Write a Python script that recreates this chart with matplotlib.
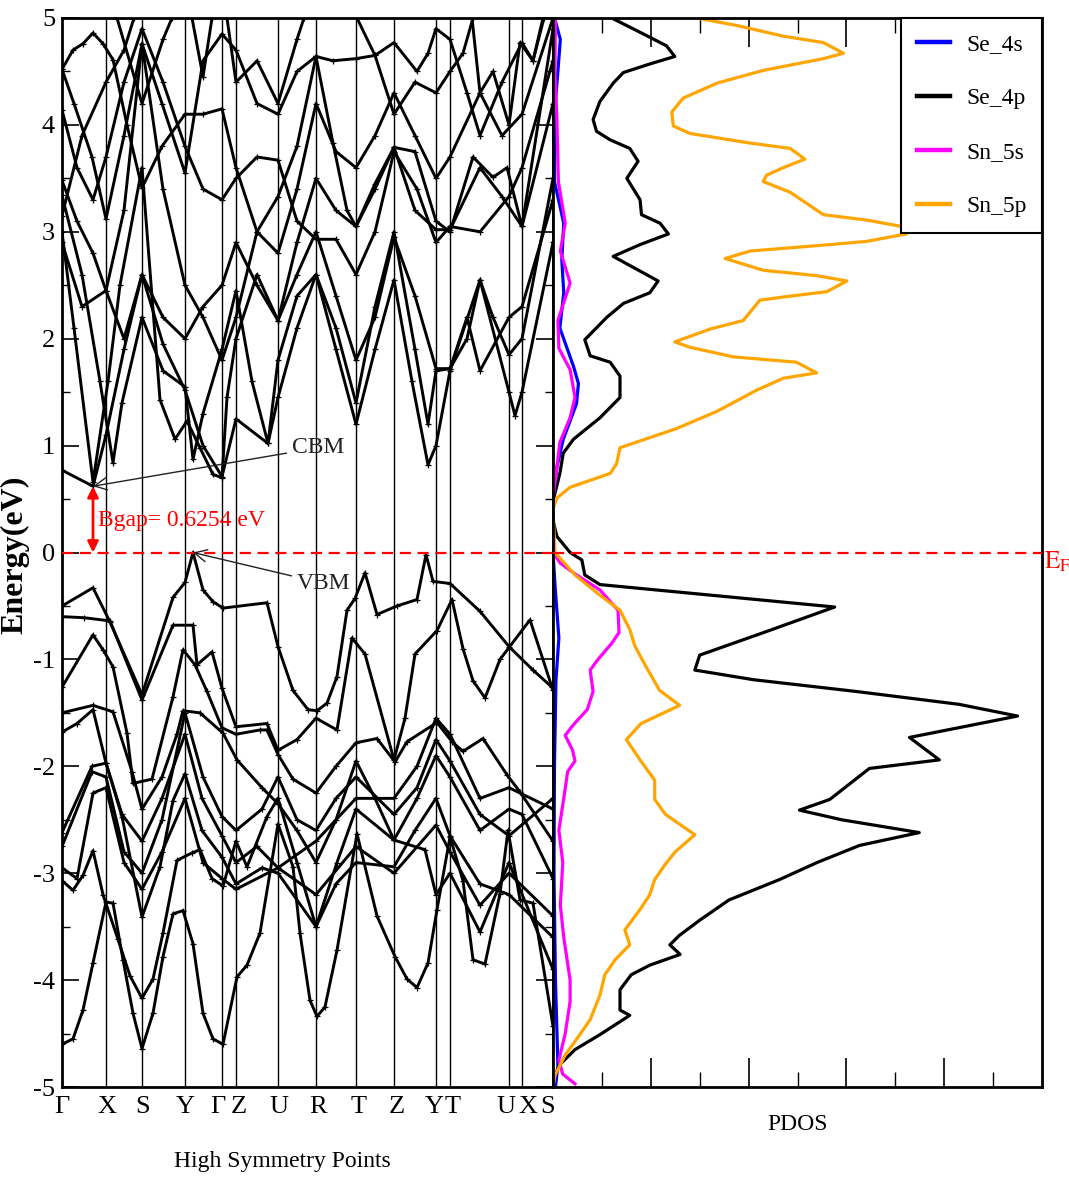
import matplotlib
matplotlib.use('Agg')
import matplotlib.pyplot as plt
from matplotlib.lines import Line2D
from matplotlib.ticker import MultipleLocator, FixedLocator

plt.rcParams['font.family'] = ['Liberation Serif', 'DejaVu Serif']
plt.rcParams['mathtext.fontset'] = 'stix'
plt.rcParams['axes.unicode_minus'] = False

# ---------------- data ----------------
kpoint_labels = ['Γ', 'X', 'S', 'Y', 'Γ', 'Z', 'U', 'R', 'T', 'Z', 'Y', 'T', 'U', 'X', 'S']
kpoint_pos = [0.00, 0.44, 0.80, 1.23, 1.60, 1.74, 2.16, 2.54, 2.94, 3.32, 3.74, 3.88, 4.47, 4.60, 4.91]
# where each label sits (adjacent labels are nudged apart as in the source)
klabel_pos = [0.00, 0.45, 0.81, 1.23, 1.56, 1.77, 2.17, 2.56, 2.97, 3.35, 3.72, 3.91, 4.44, 4.66, 4.86]

valence_bands = [
    [(0.00,-0.50),(0.31,-0.33),(0.48,-0.65),(0.80,-1.33),(1.11,-0.42),(1.23,-0.28),(1.31,0.00),(1.41,-0.35),(1.51,-0.46),(1.61,-0.52),(2.05,-0.47),(2.16,-0.88),(2.31,-1.29),(2.46,-1.47),(2.55,-1.48),(2.65,-1.41),(2.75,-1.16),(2.85,-0.54),(2.93,-0.43),(3.03,-0.19),(3.15,-0.58),(3.35,-0.50),(3.55,-0.44),(3.64,-0.02),(3.71,-0.27),(3.88,-0.29),(4.18,-0.55),(4.47,-0.88),(4.71,-1.10),(4.90,-1.26)],
    [(0.00,-0.60),(0.22,-0.61),(0.48,-0.64),(0.80,-1.38),(1.11,-0.68),(1.31,-0.68),(1.35,-1.05),(1.50,-0.93),(1.60,-1.27),(1.74,-1.63),(2.05,-1.60),(2.16,-1.85),(2.35,-1.75),(2.54,-1.55),(2.75,-1.66),(2.90,-0.80),(3.03,-0.95),(3.32,-1.94),(3.43,-1.55),(3.53,-0.95),(3.75,-0.73),(3.90,-0.44),(4.01,-0.90),(4.11,-1.20),(4.23,-1.36),(4.38,-1.00),(4.68,-0.63),(4.91,-1.29)],
    [(0.00,-1.26),(0.31,-0.77),(0.41,-0.91),(0.51,-1.07),(0.65,-1.69),(0.71,-2.16),(0.90,-2.12),(1.11,-1.35),(1.21,-0.91),(1.33,-1.05),(1.45,-1.30),(1.60,-1.64),(1.74,-1.70),(1.98,-1.66),(2.05,-1.66),(2.16,-1.89),(2.31,-2.12),(2.54,-2.25),(2.74,-2.00),(2.94,-1.78),(3.15,-1.74),(3.33,-1.96),(3.45,-1.77),(3.75,-1.59),(3.90,-1.77),(4.01,-1.86),(4.21,-1.74),(4.45,-2.08),(4.58,-2.24),(4.91,-2.70)],
    [(0.00,-1.50),(0.31,-1.43),(0.51,-1.49),(0.70,-2.05),(0.80,-2.40),(1.00,-2.10),(1.15,-1.70),(1.21,-1.48),(1.38,-1.50),(1.61,-1.69),(1.75,-1.94),(2.00,-2.20),(2.16,-2.35),(2.35,-2.60),(2.54,-2.90),(2.74,-2.50),(2.94,-1.95),(3.13,-2.30),(3.32,-2.69),(3.55,-2.30),(3.74,-1.90),(3.88,-2.10),(4.18,-2.60),(4.47,-2.40),(4.60,-2.45),(4.91,-3.05)],
    [(0.00,-1.68),(0.15,-1.60),(0.31,-1.47),(0.44,-1.97),(0.60,-2.45),(0.80,-2.70),(1.00,-2.30),(1.23,-1.70),(1.40,-2.30),(1.60,-2.65),(1.74,-2.90),(1.95,-2.75),(2.16,-2.95),(2.54,-2.70),(2.94,-2.30),(3.32,-2.30),(3.55,-2.00),(3.74,-1.55),(3.88,-1.70),(4.18,-2.30),(4.47,-2.20),(4.91,-2.40)],
    [(0.00,-2.62),(0.30,-2.00),(0.44,-1.97),(0.60,-2.47),(0.80,-3.41),(0.98,-2.94),(1.11,-2.32),(1.23,-2.07),(1.40,-2.60),(1.60,-2.85),(1.74,-3.10),(2.00,-2.95),(2.16,-3.00),(2.54,-3.50),(2.74,-3.10),(2.94,-2.90),(3.32,-2.94),(3.53,-2.60),(3.74,-2.30),(3.88,-2.65),(4.18,-3.10),(4.47,-3.20),(4.91,-3.60)],
    [(0.00,-2.75),(0.30,-2.05),(0.44,-2.10),(0.62,-2.80),(0.80,-3.00),(1.00,-2.50),(1.23,-1.50),(1.41,-2.10),(1.60,-2.47),(1.74,-2.60),(2.00,-2.40),(2.16,-2.10),(2.35,-2.50),(2.54,-2.60),(2.74,-2.30),(2.94,-2.10),(3.32,-2.45),(3.55,-2.20),(3.74,-1.75),(3.88,-1.95),(4.18,-2.45),(4.47,-2.65),(4.91,-2.30)],
    [(0.00,-2.95),(0.15,-3.05),(0.31,-2.25),(0.44,-2.20),(0.62,-2.90),(0.80,-3.15),(1.00,-2.80),(1.23,-2.30),(1.41,-2.90),(1.60,-3.05),(1.74,-3.15),(2.16,-2.95),(2.54,-3.20),(2.94,-2.75),(3.32,-3.00),(3.74,-2.55),(3.88,-2.80),(4.18,-3.30),(4.47,-3.00),(4.91,-3.40)],
    [(0.00,-3.07),(0.11,-3.16),(0.21,-3.02),(0.31,-2.79),(0.41,-3.20),(0.56,-3.62),(0.68,-3.96),(0.80,-4.17),(0.91,-3.99),(1.01,-3.56),(1.15,-2.88),(1.30,-2.81),(1.38,-2.78),(1.50,-3.05),(1.61,-3.12),(1.74,-2.70),(1.85,-2.94),(2.05,-2.47),(2.16,-2.30),(2.35,-2.90),(2.54,-3.50),(2.75,-2.90),(2.94,-2.40),(3.32,-2.69),(3.63,-2.78),(3.74,-3.20),(3.88,-3.00),(4.18,-3.55),(4.47,-2.90),(4.91,-3.90)],
    [(0.00,-4.60),(0.11,-4.55),(0.21,-4.28),(0.31,-3.84),(0.44,-3.27),(0.51,-3.28),(0.61,-3.81),(0.71,-4.31),(0.80,-4.64),(0.91,-4.31),(1.01,-3.78),(1.11,-3.38),(1.21,-3.35),(1.31,-3.66),(1.41,-4.31),(1.51,-4.55),(1.61,-4.60),(1.75,-3.97),(1.85,-3.86),(1.98,-3.56),(2.16,-2.54),(2.31,-2.94),(2.38,-3.56),(2.48,-4.19),(2.55,-4.34),(2.63,-4.25),(2.75,-3.72),(2.95,-2.63),(3.15,-3.40),(3.33,-3.78),(3.45,-3.99),(3.55,-4.07),(3.66,-3.84),(3.75,-3.34),(3.88,-2.66),(4.01,-3.07),(4.11,-3.81),(4.23,-3.85),(4.38,-3.19),(4.46,-2.60),(4.58,-3.25),(4.71,-3.28),(4.91,-4.43)],
]

conduction_bands = [
    [(0.00,0.77),(0.31,0.62),(0.44,1.10),(0.62,1.90),(0.80,2.60),(1.01,1.95),(1.23,1.52),(1.41,1.00),(1.60,0.71),(1.74,1.25),(2.06,1.02),(2.16,1.45),(2.35,2.10),(2.54,2.60),(2.74,1.90),(2.94,1.20),(3.13,1.90),(3.32,2.55),(3.50,1.60),(3.66,0.82),(3.74,1.00),(3.88,1.70),(4.18,2.55),(4.47,1.50),(4.53,1.28),(4.60,1.50),(4.91,2.90)],
    [(0.00,3.00),(0.12,2.10),(0.31,0.66),(0.46,1.60),(0.58,2.50),(0.80,3.60),(0.98,1.43),(1.13,1.06),(1.25,1.23),(1.38,0.98),(1.51,0.73),(1.60,0.70),(1.65,1.45),(1.74,2.00),(1.95,2.60),(2.16,2.17),(2.35,2.90),(2.54,3.50),(2.74,3.20),(2.94,3.05),(3.13,3.45),(3.32,3.79),(3.53,3.20),(3.74,3.02),(3.88,3.02),(4.18,3.60),(4.40,3.33),(4.60,3.05),(4.91,4.20)],
    [(0.00,3.34),(0.20,2.60),(0.38,1.60),(0.51,0.84),(0.60,1.40),(0.80,2.20),(1.01,1.70),(1.23,1.55),(1.31,0.87),(1.41,1.30),(1.60,1.90),(1.74,2.45),(1.90,1.60),(2.06,1.02),(2.16,1.80),(2.35,2.40),(2.54,2.60),(2.74,2.10),(2.94,1.40),(3.13,2.30),(3.32,3.00),(3.53,1.90),(3.66,1.20),(3.74,1.70),(3.88,1.72),(4.05,2.20),(4.18,1.70),(4.47,2.20),(4.60,2.30),(4.91,3.30)],
    [(0.00,3.48),(0.15,3.10),(0.31,2.80),(0.44,2.45),(0.62,3.20),(0.80,4.76),(1.01,3.40),(1.23,2.50),(1.41,2.20),(1.60,1.80),(1.74,2.20),(1.95,3.00),(2.16,3.33),(2.35,3.80),(2.54,4.64),(2.71,3.83),(2.85,3.20),(2.94,3.05),(3.13,3.40),(3.32,3.79),(3.53,3.75),(3.74,3.10),(3.88,3.00),(4.11,3.70),(4.31,3.51),(4.45,3.60),(4.60,3.05),(4.91,4.90)],
    [(0.00,4.52),(0.11,4.70),(0.21,4.76),(0.31,4.86),(0.41,4.76),(0.51,4.61),(0.65,4.00),(0.80,3.41),(1.00,3.80),(1.23,4.10),(1.41,4.10),(1.60,4.15),(1.74,3.60),(1.95,3.00),(2.16,2.80),(2.35,3.40),(2.54,4.20),(2.74,3.75),(2.94,3.60),(3.13,3.90),(3.32,4.30),(3.53,3.90),(3.74,3.50),(3.88,3.70),(4.18,4.30),(4.40,3.90),(4.60,4.10),(4.91,5.00)],
    [(0.00,4.52),(0.12,4.20),(0.30,3.70),(0.44,3.12),(0.62,3.90),(0.80,4.76),(1.00,4.20),(1.23,3.55),(1.41,4.60),(1.60,4.85),(1.74,4.70),(1.95,4.20),(2.16,4.10),(2.35,4.50),(2.54,4.64),(2.71,4.60),(2.94,4.62),(3.13,4.65),(3.32,4.77),(3.55,4.50),(3.66,4.67),(3.74,4.90),(3.88,4.80),(4.05,4.30),(4.18,3.90),(4.40,4.40),(4.60,4.77),(4.71,4.60),(4.82,5.00)],
    [(0.00,4.14),(0.15,3.60),(0.31,3.30),(0.44,3.70),(0.62,4.40),(0.80,4.90),(1.01,4.40),(1.23,3.80),(1.41,3.40),(1.60,3.30),(1.74,3.50),(1.95,3.70),(2.16,3.67),(2.35,3.10),(2.54,2.93),(2.74,2.93),(2.94,2.60),(3.13,3.00),(3.32,3.75),(3.55,3.40),(3.74,2.90),(3.88,3.05),(4.18,3.00),(4.47,3.33),(4.60,3.60),(4.91,4.60)],
    [(0.00,2.90),(0.20,2.30),(0.44,2.45),(0.62,2.00),(0.80,2.60),(1.01,2.20),(1.23,2.00),(1.41,2.30),(1.60,2.50),(1.74,2.90),(1.95,2.50),(2.16,2.17),(2.35,2.60),(2.54,3.00),(2.74,2.40),(2.94,1.80),(3.13,2.20),(3.32,2.95),(3.53,2.40),(3.74,1.72),(3.88,1.72),(4.05,2.00),(4.18,2.55),(4.31,2.20),(4.47,1.85),(4.60,2.00),(4.91,3.50)],
    [(0.00,3.15),(0.20,3.90),(0.44,4.40),(0.62,4.70),(0.72,5.00)],
    [(0.55,5.00),(0.80,4.20),(1.01,4.80),(1.10,5.00)],
    [(1.30,5.00),(1.41,4.45),(1.50,5.00)],
    [(1.65,5.00),(1.74,4.40),(1.95,4.60),(2.16,4.20),(2.35,4.80),(2.42,5.00)],
    [(2.95,5.00),(3.13,4.65),(3.32,4.10),(3.53,4.40),(3.74,4.30),(3.88,4.50),(4.01,4.67),(4.11,5.00)],
    [(4.10,5.00),(4.18,4.30),(4.31,4.50),(4.47,4.00),(4.58,4.77),(4.71,4.60),(4.81,5.00)],
]

# PDOS: (energy, density)
se4s = [(5.0,0.03),(4.80,0.15),(4.50,0.10),(4.22,0.05),(3.47,0.03),(3.08,0.22),(2.74,0.18),(2.43,0.22),(2.10,0.14),(1.74,0.42),(1.58,0.52),(1.39,0.48),(1.06,0.21),(0.80,0.08),(0.50,0.00),(0.0,0.00),(-0.3,0.04),(-0.8,0.12),(-1.2,0.06),(-2.0,0.03),(-3.0,0.02),(-4.0,0.05),(-4.8,0.10),(-5.0,0.05)]
se4p = [(5.00,1.20),(4.82,1.98),(4.74,2.32),(4.64,2.49),(4.57,1.98),(4.49,1.44),(4.39,1.23),(4.22,0.96),(4.05,0.82),(3.94,0.89),(3.86,1.17),(3.78,1.57),(3.66,1.74),(3.50,1.51),(3.30,1.78),(3.16,1.81),(3.08,2.19),(2.98,2.36),(2.88,1.78),(2.77,1.23),(2.65,1.71),(2.54,2.15),(2.43,1.98),(2.33,1.44),(2.20,1.10),(1.99,0.65),(1.84,0.76),(1.78,1.17),(1.65,1.37),(1.45,1.37),(1.26,0.96),(1.06,0.42),(0.93,0.21),(0.74,0.14),(0.48,0.00),(0.30,0.00),(0.15,0.08),(0.00,0.35),(-0.07,0.59),(-0.21,0.65),(-0.30,0.96),(-0.51,5.76),(-0.75,4.30),(-0.96,3.00),(-1.10,2.90),(-1.19,4.10),(-1.30,6.20),(-1.42,8.30),(-1.53,9.50),(-1.73,7.29),(-1.94,7.90),(-2.02,6.47),(-2.31,5.66),(-2.41,5.04),(-2.50,5.90),(-2.62,7.49),(-2.74,6.27),(-2.90,5.40),(-3.06,4.63),(-3.25,3.60),(-3.44,3.00),(-3.58,2.59),(-3.67,2.39),(-3.76,2.60),(-3.86,1.98),(-3.95,1.60),(-4.09,1.37),(-4.28,1.37),(-4.33,1.57),(-4.51,0.96),(-4.65,0.45),(-4.79,0.14),(-4.93,0.00),(-5.0,0.0)]
sn5s = [(5.0,0.05),(4.50,0.04),(4.05,0.08),(3.47,0.11),(3.08,0.25),(2.82,0.15),(2.52,0.35),(2.17,0.10),(1.91,0.12),(1.71,0.35),(1.45,0.45),(1.26,0.35),(1.03,0.14),(0.80,0.08),(0.50,0.00),(0.0,0.00),(-0.10,0.15),(-0.20,0.45),(-0.35,0.96),(-0.54,1.33),(-0.75,1.35),(-0.85,1.20),(-1.00,0.92),(-1.10,0.76),(-1.30,0.82),(-1.47,0.70),(-1.61,0.42),(-1.71,0.25),(-1.85,0.40),(-1.95,0.45),(-2.05,0.30),(-2.30,0.22),(-2.60,0.12),(-2.90,0.20),(-3.30,0.15),(-3.60,0.22),(-4.00,0.35),(-4.20,0.35),(-4.50,0.25),(-4.75,0.12),(-4.88,0.20),(-4.97,0.45)]
sn5p = [(5.00,2.94),(4.93,3.76),(4.83,4.71),(4.77,5.53),(4.67,5.94),(4.62,5.53),(4.51,4.30),(4.39,3.35),(4.25,2.66),(4.12,2.43),(3.99,2.46),(3.92,2.80),(3.83,4.03),(3.78,4.85),(3.68,5.15),(3.60,4.71),(3.53,4.37),(3.47,4.30),(3.37,4.85),(3.16,5.53),(3.11,6.41),(3.05,7.13),(2.98,7.23),(2.91,6.41),(2.87,5.39),(2.82,4.03),(2.75,3.52),(2.64,4.30),(2.59,5.39),(2.54,6.01),(2.44,5.60),(2.39,4.71),(2.36,4.23),(2.17,3.89),(2.09,3.21),(1.97,2.49),(1.92,2.80),(1.83,3.69),(1.78,4.98),(1.68,5.39),(1.63,4.71),(1.52,4.17),(1.32,3.35),(1.16,2.53),(0.98,1.37),(0.83,1.30),(0.74,1.17),(0.61,0.35),(0.51,0.08),(0.41,0.00),(0.0,0.04),(-0.21,0.45),(-0.40,0.96),(-0.54,1.37),(-0.72,1.57),(-0.87,1.67),(-1.05,1.88),(-1.29,2.18),(-1.43,2.59),(-1.60,1.80),(-1.75,1.50),(-1.94,1.78),(-2.13,2.08),(-2.31,2.08),(-2.45,2.30),(-2.64,2.90),(-2.80,2.50),(-2.92,2.29),(-3.06,2.08),(-3.20,1.98),(-3.34,1.78),(-3.53,1.47),(-3.67,1.57),(-3.81,1.27),(-3.95,1.06),(-4.14,0.96),(-4.37,0.76),(-4.51,0.55),(-4.70,0.25),(-4.89,0.04),(-5.00,0.00)]

pdos_series = [('Se_4s', se4s, '#0000FF'), ('Se_4p', se4p, '#000000'),
               ('Sn_5s', sn5s, '#FF00FF'), ('Sn_5p', sn5p, '#FFA500')]

band_gap_text = 'Bgap= 0.6254 eV'
cbm = (0.31, 0.62)
vbm = (1.31, 0.00)

# ---------------- figure ----------------
W, H = 1069, 1183
fig = plt.figure(figsize=(W / 100, H / 100), dpi=100)


def rect(x0, x1, y0, y1):
    return [x0 / W, 1 - y1 / H, (x1 - x0) / W, (y1 - y0) / H]


ax = fig.add_axes(rect(62, 553, 18, 1087))
ax2 = fig.add_axes(rect(553, 1042, 18, 1087))

for band in valence_bands + conduction_bands:
    ks = [p[0] for p in band]
    es = [p[1] for p in band]
    ax.plot(ks, es, color='black', lw=2.1, marker='+', ms=4, mew=0.9, zorder=3)

for k in kpoint_pos[1:-1]:
    ax.axvline(k, color='black', lw=1.0, zorder=2)

dash = (0, (5, 3))
ax.axhline(0, color='red', lw=1.6, ls=dash, zorder=4)
ax.set_xlim(kpoint_pos[0], kpoint_pos[-1])
ax.set_ylim(-5, 5)
ax.set_xticks(kpoint_pos)
ax.set_xticklabels([])
for lab, kx in zip(kpoint_labels, klabel_pos):
    ax.text(kx, -5.08, lab, fontsize=19, ha='center', va='top')
ax.set_yticks(range(-5, 6))
ax.set_yticklabels([str(v) for v in range(-5, 6)])
ax.yaxis.set_minor_locator(MultipleLocator(0.5))
ax.tick_params(axis='x', length=0)
ax.tick_params(axis='y', which='major', direction='in', length=12, width=1.2,
               left=True, right=True, labelsize=19, pad=5)
ax.tick_params(axis='y', which='minor', direction='in', length=6, width=1.0,
               left=True, right=True)
for s in ax.spines.values():
    s.set_linewidth(2.0)

# annotations
ax.annotate('', xy=(cbm[0], cbm[1]), xytext=(cbm[0], 0.0),
            arrowprops=dict(arrowstyle='<|-|>', color='red', lw=2.0, mutation_scale=16,
                            shrinkA=0, shrinkB=0), zorder=6)
ax.text(0.36, 0.30, band_gap_text, color='red', fontsize=17, ha='left', va='center', zorder=6)
ax.annotate('CBM', xy=cbm, xytext=(2.30, 0.98), fontsize=17, color='#222222',
            ha='left', va='center',
            arrowprops=dict(arrowstyle='->', color='#222222', lw=1.0, shrinkA=2, shrinkB=0,
                            mutation_scale=22), zorder=6)
ax.annotate('VBM', xy=vbm, xytext=(2.35, -0.29), fontsize=17, color='#222222',
            ha='left', va='center',
            arrowprops=dict(arrowstyle='->', color='#222222', lw=1.0, shrinkA=2, shrinkB=0,
                            mutation_scale=22), zorder=6)

# PDOS
for name, data, col in pdos_series:
    es = [p[0] for p in data]
    ds = [p[1] for p in data]
    ax2.plot(ds, es, color=col, lw=2.3, label=name)
ax2.axhline(0, color='red', lw=1.6, ls=dash, zorder=4)
ax2.set_xlim(0, 10)
ax2.set_ylim(-5, 5)
ax2.set_yticks([])
ax2.xaxis.set_major_locator(FixedLocator([2, 4, 6, 8]))
ax2.xaxis.set_minor_locator(FixedLocator([1, 3, 5, 7, 9]))
ax2.tick_params(axis='x', which='major', direction='in', length=21, width=1.2,
                top=True, bottom=True, labelbottom=False)
ax2.tick_params(axis='x', which='minor', direction='in', length=10.5, width=1.0,
                top=True, bottom=True)
for s in ax2.spines.values():
    s.set_linewidth(2.0)

handles = [Line2D([], [], color=c, lw=3.2) for _, _, c in pdos_series]
leg = ax2.legend(handles, [n for n, _, _ in pdos_series], loc='upper right',
                 bbox_to_anchor=(1.0, 1.0), borderaxespad=0.0, fontsize=17,
                 frameon=True, fancybox=False, edgecolor='black', framealpha=1,
                 handlelength=1.4, handletextpad=0.7, labelspacing=1.38,
                 borderpad=0.65)
leg.get_frame().set_linewidth(1.5)

# labels
fig.text(15 / W, 1 - 555 / H, 'Energy(eV)', rotation=90, fontsize=23, fontweight='bold',
         ha='center', va='center')
fig.text(282 / W, 1 - 1162 / H, 'High Symmetry Points', fontsize=17, ha='center', va='center')
fig.text(798 / W, 1 - 1125 / H, 'PDOS', fontsize=17, ha='center', va='center')
fig.text(1044 / W, 1 - 562 / H, r'$\mathrm{E_F}$', fontsize=18, color='red',
         ha='left', va='center')

fig.savefig('out.png', dpi=100)
